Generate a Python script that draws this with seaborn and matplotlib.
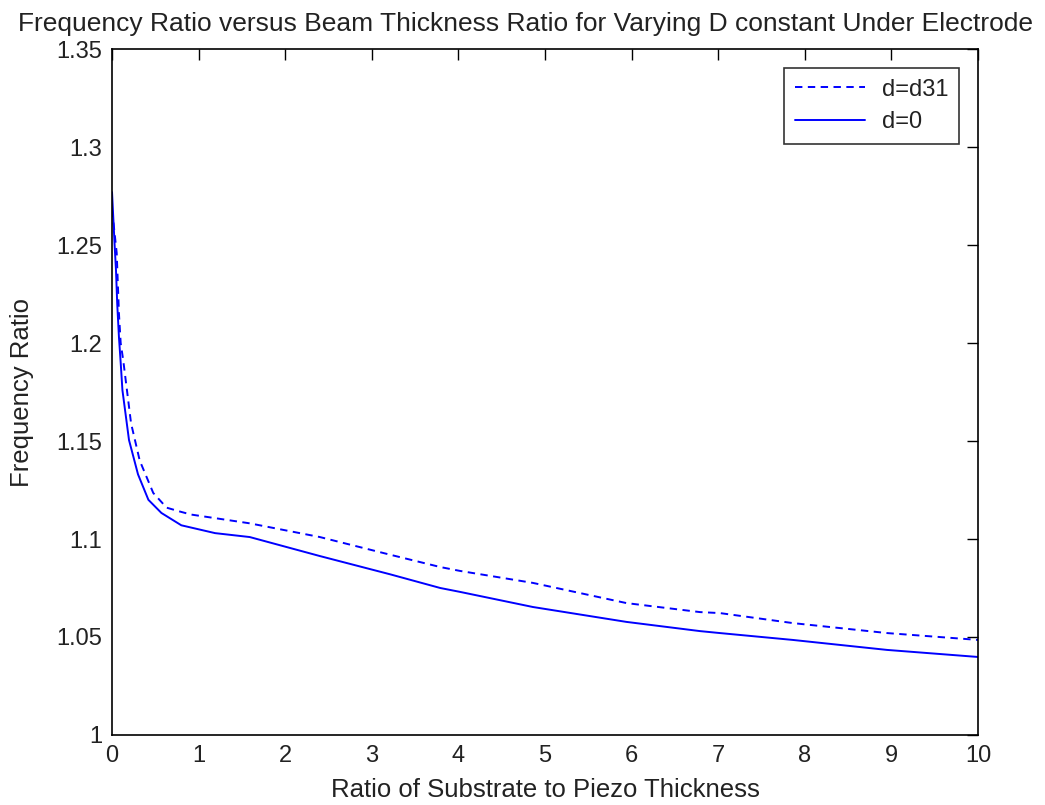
import matplotlib
matplotlib.use("Agg")
import matplotlib.pyplot as plt
import pandas as pd
import seaborn as sns

# values
x_d0 = [0.0, 0.03, 0.046, 0.06, 0.08, 0.10, 0.12, 0.196, 0.30, 0.42, 0.57, 0.80,
        1.19, 1.59, 2.40, 3.21, 3.79, 4.02, 4.86, 5.94, 6.79, 7.02, 7.86, 8.95, 10.0]
y_d0 = [1.277, 1.25, 1.237, 1.22, 1.203, 1.19, 1.176, 1.1505, 1.133, 1.120, 1.1133, 1.107,
        1.103, 1.101, 1.0913, 1.082, 1.075, 1.073, 1.0653, 1.0577, 1.053, 1.052, 1.0485, 1.0434, 1.0398]

x_d31 = [0.0, 0.02, 0.054, 0.08, 0.10, 0.13, 0.22, 0.32, 0.476, 0.63, 0.785, 0.91,
         1.59, 2.40, 3.21, 3.79, 4.02, 4.86, 5.94, 6.79, 7.02, 7.86, 8.95, 10.0]
y_d31 = [1.268, 1.26, 1.246, 1.215, 1.20, 1.191, 1.159, 1.140, 1.1235, 1.116, 1.114, 1.1125,
         1.108, 1.101, 1.092, 1.0857, 1.0837, 1.0776, 1.0673, 1.0627, 1.0622, 1.0571, 1.052, 1.0485]

x_ticks = list(range(0, 11))
y_ticks = [1.0, 1.05, 1.1, 1.15, 1.2, 1.25, 1.3, 1.35]
y_tick_labels = ["1", "1.05", "1.1", "1.15", "1.2", "1.25", "1.3", "1.35"]

sns.set_style("white")
plt.rcParams['font.family'] = ['Liberation Sans Narrow', 'Liberation Sans', 'DejaVu Sans']

fig = plt.figure(figsize=(10.45, 8.05), dpi=100)
ax = fig.add_axes([0.1072, 0.087, 0.8287, 0.852])

df31 = pd.DataFrame({"x": x_d31, "y": y_d31})
df0 = pd.DataFrame({"x": x_d0, "y": y_d0})

sns.lineplot(data=df31, x="x", y="y", color="#0000ff", linestyle=(0, (3.8, 2.8)),
             linewidth=1.4, sort=False, estimator=None, label="d=d31", ax=ax)
sns.lineplot(data=df0, x="x", y="y", color="#0000ff", linestyle="-",
             linewidth=1.4, sort=False, estimator=None, label="d=0", ax=ax)

ax.set_xlim(0, 10)
ax.set_ylim(1.0, 1.35)
ax.set_xticks(x_ticks)
ax.set_yticks(y_ticks)
ax.set_yticklabels(y_tick_labels)
ax.tick_params(direction="in", top=True, right=True, length=8, width=1,
               labelsize=17, color="black", labelcolor="#222222", pad=7)
for s in ax.spines.values():
    s.set_color("black")
    s.set_linewidth(1.2)

ax.set_xlabel("Ratio of Substrate to Piezo Thickness", fontsize=18.5, labelpad=8,
              color="#222222")
ax.set_ylabel("Frequency Ratio", fontsize=18.5, labelpad=16, color="#222222")
ax.set_title("Frequency Ratio versus Beam Thickness Ratio for Varying D constant Under Electrode",
             fontsize=19, pad=13, color="#222222", x=0.478)

leg = ax.legend(loc="upper right", fontsize=17, frameon=True, fancybox=False,
                edgecolor="black", handlelength=3.0, borderaxespad=0.8,
                borderpad=0.45, labelspacing=0.45, handletextpad=0.7)
leg.get_frame().set_linewidth(1.2)
for t in leg.get_texts():
    t.set_color("#222222")

fig.savefig("out.png", dpi=100)
